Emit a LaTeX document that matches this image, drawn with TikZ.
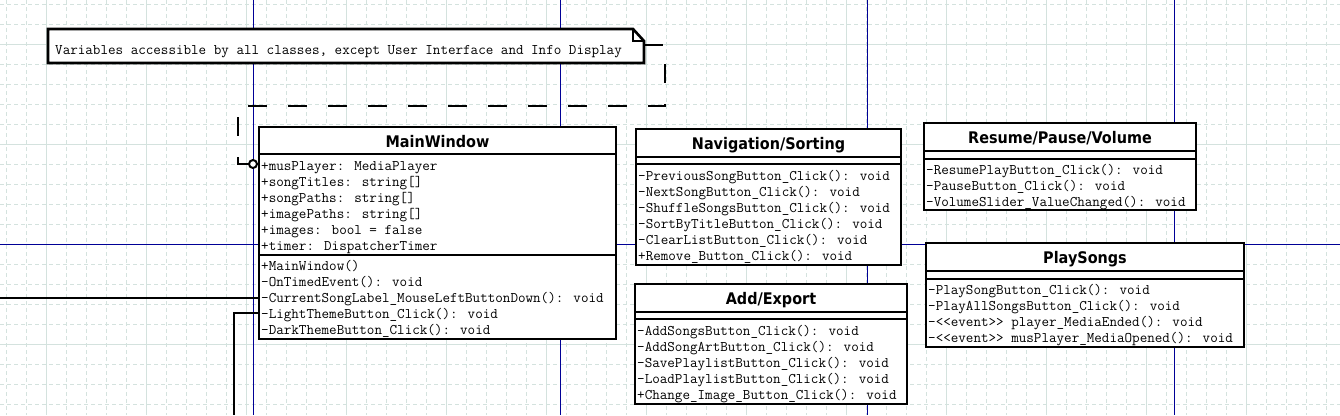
\documentclass[tikz,border=0pt]{standalone}
\usepackage{fontspec}
\newfontfamily\titlefont[FakeStretch=0.9]{DejaVu Sans}
\newcommand\monofont{\ttfamily\fontsize{14.67}{16}\selectfont}
\definecolor{gridc}{RGB}{212,226,222}
\definecolor{pagec}{RGB}{0,0,150}
\begin{document}
\begin{tikzpicture}[x=1pt,y=-1pt,
  gridminor/.style={draw=gridc, line width=1pt, dash pattern=on 4pt off 3pt},
  gridmajor/.style={draw=gridc, line width=1.2pt},
  pageline/.style={draw=pagec, line width=1pt},
  umlbox/.style={draw=black, line width=2.6pt, fill=white, anchor=north west, inner sep=0pt, outer sep=0pt},
  sepline/.style={draw=black, line width=2.6pt},
  notebox/.style={draw=black, line width=2.6pt, fill=white, line join=miter},
  ttext/.style={font=\titlefont\bfseries\fontsize{16}{18}\selectfont, anchor=base, inner sep=0pt},
  mtext/.style={font=\monofont, anchor=base west, inner sep=0pt},
  conn/.style={draw=black, line width=2.4pt},
  depend/.style={draw=black, line width=2.6pt, dash pattern=on 19pt off 21pt},
  anchorring/.style={circle, draw=black, fill=white, line width=2pt, minimum size=8pt, inner sep=0pt, outer sep=0pt},
]
\useasboundingbox (0,0) rectangle (1340,415);
\fill[white] (0,0) rectangle (1340,415);
% grid
\foreach \x in {6.7,26.7,...,1340} \draw[gridminor] (\x,0) -- (\x,415);
\foreach \y in {4.3,24.3,...,415} \draw[gridminor] (0,\y) -- (1340,\y);
\foreach \x in {46.7,146.7,...,1340} \draw[gridmajor] (\x,0) -- (\x,415);
\foreach \y in {44.3,144.3,...,415} \draw[gridmajor] (0,\y) -- (1340,\y);
% page lines
\foreach \x in {253,560,867,1174} \draw[pageline] (\x,0) -- (\x,415);
\draw[pageline] (0,244.3) -- (1340,244.3);

% note
\draw[notebox] (48,29) -- (633,29) -- (644,41) -- (644,63) -- (48,63) -- cycle;
\draw[black, line width=1.6pt] (633,29) -- (633,41) -- (644,41);
\node[mtext] (note) at (55,54) {Variables accessible by all classes, except User Interface and Info Display};
\coordinate (noteR) at (644,45);

% MainWindow
\node[umlbox, minimum width=357, minimum height=212] (mw) at (259,127) {};
\node[ttext] (mwT) at (437.5,147.5) {MainWindow};
\draw[sepline] (259,154) -- (616,154);
\draw[sepline] (259,255) -- (616,255);
\foreach \t [count=\i from 0] in {{+musPlayer: MediaPlayer},{+songTitles: string[]},{+songPaths: string[]},{+imagePaths: string[]},{+images: bool = false},{+timer: DispatcherTimer}}
  \node[mtext] (mwA\i) at (261,{170+16*\i}) {\t};
\foreach \t [count=\i from 0] in {{+MainWindow()},{-OnTimedEvent(): void},{-CurrentSongLabel\_MouseLeftButtonDown(): void},{-LightThemeButton\_Click(): void},{-DarkThemeButton\_Click(): void}}
  \node[mtext] (mwO\i) at (261,{270+16*\i}) {\t};

% Navigation/Sorting
\node[umlbox, minimum width=265, minimum height=136] (nav) at (636,129) {};
\node[ttext] (navT) at (768.5,149.5) {Navigation/Sorting};
\draw[sepline] (636,157) -- (901,157);
\draw[sepline] (636,164) -- (901,164);
\foreach \t [count=\i from 0] in {{-PreviousSongButton\_Click(): void},{-NextSongButton\_Click(): void},{-ShuffleSongsButton\_Click(): void},{-SortByTitleButton\_Click(): void},{-ClearListButton\_Click(): void},{+Remove\_Button\_Click(): void}}
  \node[mtext] (navO\i) at (638,{180+16*\i}) {\t};

% Add/Export
\node[umlbox, minimum width=272, minimum height=120] (add) at (635,284) {};
\node[ttext] (addT) at (771,304.5) {Add/Export};
\draw[sepline] (635,312) -- (907,312);
\draw[sepline] (635,319) -- (907,319);
\foreach \t [count=\i from 0] in {{-AddSongsButton\_Click(): void},{-AddSongArtButton\_Click(): void},{-SavePlaylistButton\_Click(): void},{-LoadPlaylistButton\_Click(): void},{+Change\_Image\_Button\_Click(): void}}
  \node[mtext] (addO\i) at (637,{335+16*\i}) {\t};

% Resume/Pause/Volume
\node[umlbox, minimum width=272, minimum height=87] (rpv) at (924,123) {};
\node[ttext] (rpvT) at (1060,143.5) {Resume/Pause/Volume};
\draw[sepline] (924,151) -- (1196,151);
\draw[sepline] (924,159) -- (1196,159);
\foreach \t [count=\i from 0] in {{-ResumePlayButton\_Click(): void},{-PauseButton\_Click(): void},{-VolumeSlider\_ValueChanged(): void}}
  \node[mtext] (rpvO\i) at (926,{174+16*\i}) {\t};

% PlaySongs
\node[umlbox, minimum width=318, minimum height=104] (ps) at (926,243) {};
\node[ttext] (psT) at (1085,263.5) {PlaySongs};
\draw[sepline] (926,271) -- (1244,271);
\draw[sepline] (926,279) -- (1244,279);
\foreach \t [count=\i from 0] in {{-PlaySongButton\_Click(): void},{-PlayAllSongsButton\_Click(): void},{-<\kern0pt<event>\kern0pt> player\_MediaEnded(): void},{-<\kern0pt<event>\kern0pt> musPlayer\_MediaOpened(): void}}
  \node[mtext] (psO\i) at (928,{294+16*\i}) {\t};

% connectors
\node[anchorring] (ring) at (253,164) {};
\draw[depend] (noteR) -- (665,45) -- (665,106) -- (238,106) -- (238,164) -- (ring.west);
\coordinate (leftA) at (0,298);
\draw[conn] (leftA) -- (leftA -| mw.west);
\coordinate (botB) at (234,415);
\coordinate (mwB) at (259,313);
\draw[conn] (mwB) -| (botB);
\end{tikzpicture}
\end{document}
